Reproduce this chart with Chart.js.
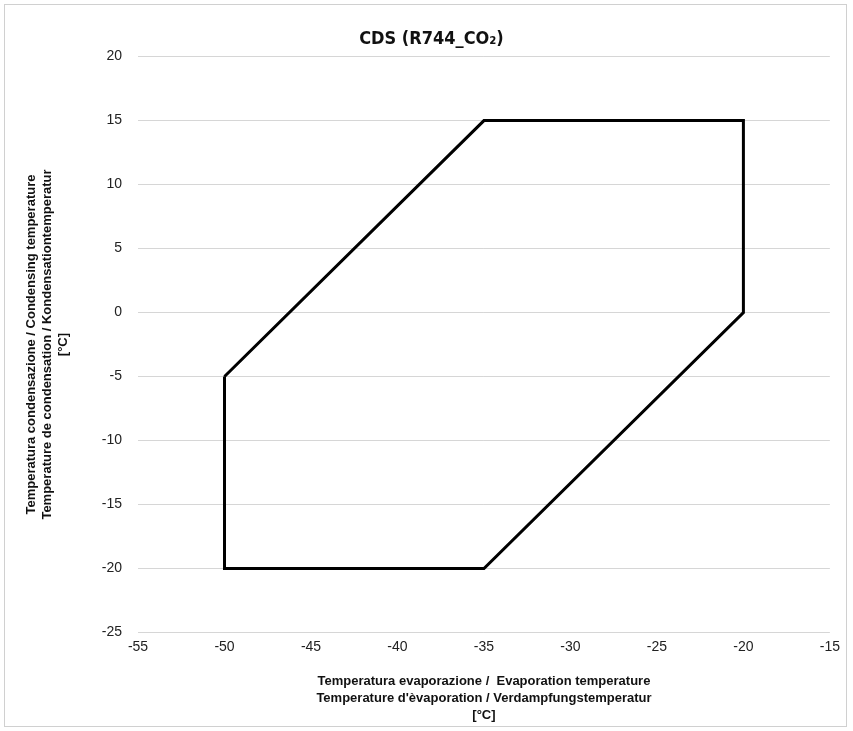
<!DOCTYPE html>
<html>
<head>
<meta charset="utf-8">
<script src="https://cdn.jsdelivr.net/npm/chart.js@4"></script>
<style>
  html, body { margin: 0; padding: 0; background: #fff; }
  #wrap { position: absolute; left: 4px; top: 4px; width: 843px; height: 723px; border: 1px solid #d0d0d0; box-sizing: border-box; }
</style>
</head>
<body>
<div id="wrap"><canvas id="myChart"></canvas></div>
<script>
const evapTemps = [-50, -35, -20, -20, -35, -50, -50];
const condTemps = [-5, 15, 15, 0, -20, -20, -5];
const xTicks = [-55, -50, -45, -40, -35, -30, -25, -20, -15];
const yTicks = [-25, -20, -15, -10, -5, 0, 5, 10, 15, 20];

const points = evapTemps.map((x, i) => ({ x: x, y: condTemps[i] }));

const ctx = document.getElementById('myChart');
new Chart(ctx, {
    type: 'scatter',
    data: {
        datasets: [{
            label: 'CDS',
            data: points,
            showLine: true,
            borderColor: '#000',
            borderWidth: 3,
            pointRadius: 0,
            fill: false
        }]
    },
    options: {
        responsive: true,
        maintainAspectRatio: false,
        animation: false,
        layout: { padding: { top: 4, right: 7, bottom: 2, left: 19 } },
        plugins: {
            legend: { display: false },
            tooltip: { enabled: false },
            title: {
                display: true,
                text: 'CDS (R744_CO\u2082)',
                color: '#111',
                font: { family: 'DejaVu Sans Condensed', size: 18, weight: 'bold' },
                padding: { top: 20, bottom: 6 }
            }
        },
        scales: {
            x: {
                type: 'linear',
                min: -55,
                max: -15,
                afterBuildTicks: axis => { axis.ticks = xTicks.map(v => ({ value: v })); },
                grid: { display: false, drawTicks: false },
                border: { display: false },
                ticks: { color: '#222', font: { family: 'Liberation Sans', size: 14 }, padding: 6 },
                title: {
                    display: true,
                    text: ['Temperatura evaporazione /  Evaporation temperature', "Temperature d'\u00e8vaporation / Verdampfungstemperatur", '[\u00b0C]'],
                    color: '#111',
                    font: { family: 'Liberation Sans', size: 13, weight: 'bold', lineHeight: 1.3 },
                    padding: { top: 12, bottom: 0 }
                }
            },
            y: {
                type: 'linear',
                min: -25,
                max: 20,
                afterBuildTicks: axis => { axis.ticks = yTicks.map(v => ({ value: v })); },
                grid: { color: '#d6d6d6', lineWidth: 1, drawTicks: false },
                border: { display: false },
                ticks: { color: '#222', font: { family: 'Liberation Sans', size: 14 }, padding: 16 },
                title: {
                    display: true,
                    text: ['Temperatura condensazione / Condensing temperature', 'Temperature de condensation / Kondensationtemperatur', '[\u00b0C]'],
                    color: '#111',
                    font: { family: 'Liberation Sans', size: 13, weight: 'bold', lineHeight: 1.2 },
                    padding: { top: 0, bottom: 15 }
                }
            }
        }
    }
});
</script>
</body>
</html>
